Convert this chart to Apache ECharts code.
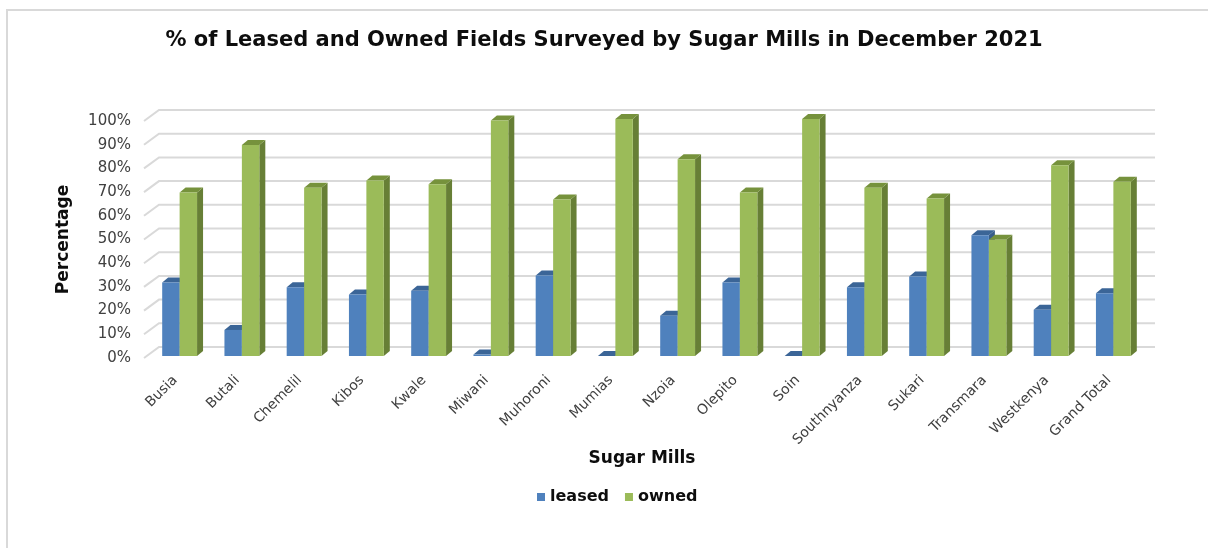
<!DOCTYPE html>
<html>
<head>
<meta charset="utf-8">
<script src="https://cdn.jsdelivr.net/npm/echarts@6/dist/echarts.min.js"></script>
<style>
html,body{margin:0;padding:0;background:#fff;}
#chart{width:1208px;height:548px;}
</style>
</head>
<body>
<div id="chart"></div>
<script>
const categories = ['Busia','Butali','Chemelil','Kibos','Kwale','Miwani','Muhoroni','Mumias','Nzoia','Olepito','Soin','Southnyanza','Sukari','Transmara','Westkenya','Grand Total'];
const leased = [31, 11, 29, 26, 27.5, 0.6, 34, 0, 17, 31, 0, 29, 33.5, 51, 19.5, 26.5];
const owned  = [69, 89, 71, 74, 72.5, 99.4, 66, 100, 83, 69, 100, 71, 66.5, 49, 80.5, 73.5];
const gridTicks = [0, 10, 20, 30, 40, 50, 60, 70, 80, 90, 100];

const FONT = 'DejaVu Sans';
const chart = echarts.init(document.getElementById('chart'), null, {renderer: 'canvas'});

function barRenderer(which, front, top, side) {
  return function (params, api) {
    const ci = api.value(0), v = api.value(1);
    const base = api.coord([ci, 0]);
    const tp = api.coord([ci, v]);
    const band = api.size([1, 0])[0];
    const w = band * 0.28;
    const cx = base[0] + 4.5;
    const x0 = which === 0 ? cx - w : cx;
    const x1 = x0 + w;
    const yb = base[1] - 2, yt = tp[1] - 2;
    const dx = 6, dy = 5;
    return {
      type: 'group',
      children: [
        {type: 'polygon', shape: {points: [[x1, yb], [x1 + dx, yb - dy], [x1 + dx, yt - dy], [x1, yt]]}, style: {fill: side}},
        {type: 'polygon', shape: {points: [[x0, yt], [x1, yt], [x1 + dx, yt - dy], [x0 + dx, yt - dy]]}, style: {fill: top}},
        {type: 'rect', shape: {x: x0, y: yt, width: w, height: Math.max(yb - yt, 0)}, style: {fill: front}}
      ]
    };
  };
}

function wallRenderer(params, api) {
  const v = api.value(1);
  const p = api.coord([0, v]);
  const band = api.size([1, 0])[0];
  const left = p[0] - band / 2;
  const right = left + categories.length * band;
  return {
    type: 'polyline',
    shape: {points: [[left, p[1]], [left + 15, p[1] - 11], [right + 15, p[1] - 11]]},
    style: {stroke: '#d9d9d9', lineWidth: 2, fill: null}
  };
}

const option = {
  backgroundColor: '#ffffff',
  animation: false,
  title: {
    text: '% of Leased and Owned Fields Surveyed by Sugar Mills in December 2021',
    left: 'center',
    top: 25,
    textStyle: {fontFamily: FONT, fontWeight: 'bold', fontSize: 21, color: '#0d0d0d'}
  },
  graphic: [
    {type: 'polyline', z: -10, silent: true,
     shape: {points: [[7, 560], [7, 10], [1220, 10]]}, style: {fill: null, stroke: '#d9d9d9', lineWidth: 2}}
  ],
  legend: {
    top: 484,
    left: 532,
    icon: 'rect',
    itemWidth: 8,
    itemHeight: 8,
    itemGap: 16,
    data: ['leased', 'owned'],
    textStyle: {fontFamily: FONT, fontWeight: 'bold', fontSize: 16, color: '#0d0d0d'}
  },
  grid: {left: 144, right: 68, top: 121, bottom: 190},
  xAxis: {
    type: 'category',
    data: categories,
    axisLine: {show: false},
    axisTick: {show: false},
    axisLabel: {rotate: 45, margin: 20, fontFamily: FONT, fontSize: 14, color: '#404040', interval: 0},
    name: 'Sugar Mills',
    nameLocation: 'middle',
    nameGap: 92,
    nameTextStyle: {fontFamily: FONT, fontWeight: 'bold', fontSize: 17, color: '#0d0d0d'}
  },
  yAxis: {
    type: 'value',
    min: 0, max: 100, interval: 10,
    axisLine: {show: false},
    axisTick: {show: false},
    splitLine: {show: false},
    axisLabel: {formatter: '{value}%', margin: 13, fontFamily: FONT, fontSize: 15, color: '#404040'},
    name: 'Percentage',
    nameLocation: 'middle',
    nameGap: 72,
    nameTextStyle: {fontFamily: FONT, fontWeight: 'bold', fontSize: 17, color: '#0d0d0d'}
  },
  series: [
    {
      type: 'custom', name: 'walls', silent: true, clip: false, z: 1,
      renderItem: wallRenderer,
      data: gridTicks.map(v => [0, v])
    },
    {
      type: 'custom', name: 'leased', clip: false, z: 2,
      itemStyle: {color: '#4f81bd'},
      renderItem: barRenderer(0, '#4f81bd', '#3b6597', '#385d8a'),
      data: leased.map((v, i) => [i, v])
    },
    {
      type: 'custom', name: 'owned', clip: false, z: 3,
      itemStyle: {color: '#9bbb59'},
      renderItem: barRenderer(1, '#9bbb59', '#76923c', '#677f36'),
      data: owned.map((v, i) => [i, v])
    }
  ]
};
chart.setOption(option);
</script>
</body>
</html>
